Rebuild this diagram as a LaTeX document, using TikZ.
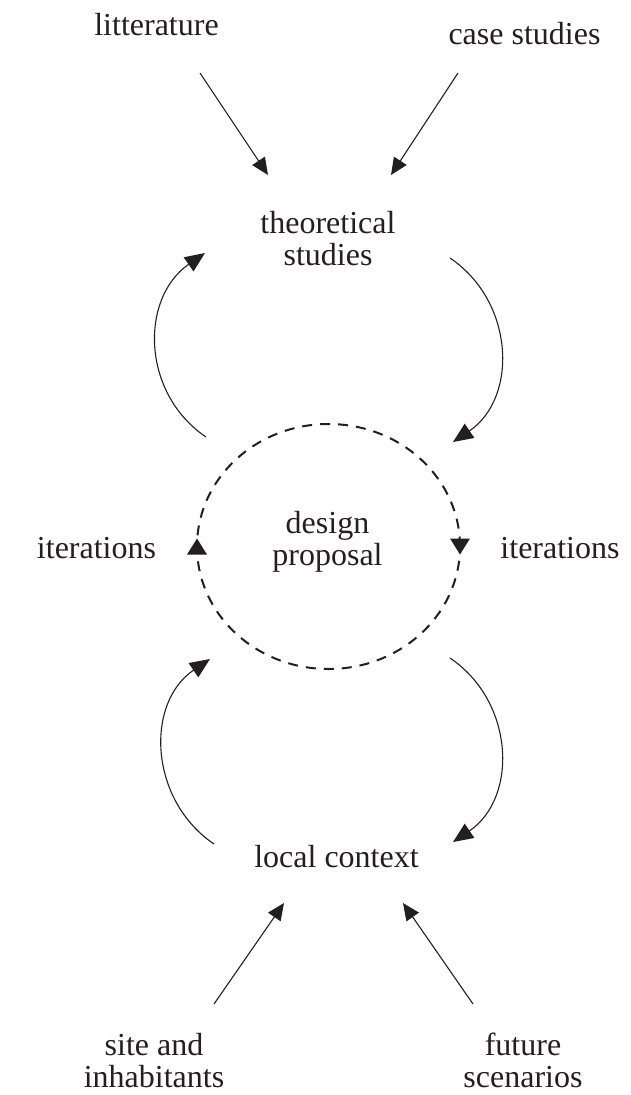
\documentclass[tikz,border=0pt]{standalone}
\usepackage{fontspec}
\setmainfont{Liberation Serif}
\usetikzlibrary{arrows.meta,shapes.geometric}
\definecolor{ink}{HTML}{231F20}
\begin{document}
\begin{tikzpicture}[x=1pt,y=-1pt,
  lbl/.style={font=\fontsize{32}{32}\selectfont, text=ink, align=center, inner sep=0pt, anchor=base},
  conn/.style={draw=ink, line width=1.1pt, -{Triangle[length=17pt,width=15pt]}},
  arc conn/.style={draw=ink, line width=1.1pt, -{Triangle[length=20pt,width=17pt]}},
  loopmark/.style={fill=ink, draw=none},
  loopring/.style={draw=ink, dash pattern=on 10pt off 8pt, line width=2pt, ellipse, minimum width=263pt, minimum height=245pt, inner sep=0pt, outer sep=0pt}
]
\useasboundingbox (0,0) rectangle (630,1095);

% text nodes (base = baseline of the last line)
\node[lbl] (lit) at (156.5,35) {litterature};
\node[lbl] (cases) at (524.5,44) {case studies};
\node[lbl] (theo) at (328,265) {theoretical\\studies};
\node[loopring] (dp) at (328.5,546.5) {};
\node[lbl] (dptext) at (327.5,565) {design\\proposal};
\node[lbl] (itl) at (96.5,558) {iterations};
\node[lbl] (itr) at (560,558) {iterations};
\node[lbl] (local) at (336.5,867) {local context};
\node[lbl] (site) at (154,1087) {site and\\inhabitants};
\node[lbl] (future) at (523,1087) {future\\scenarios};

% connector ends
\coordinate (litS) at (200,73);   \coordinate (litE) at (268,175);
\coordinate (casS) at (458,73);   \coordinate (casE) at (391,175);
\coordinate (siteS) at (214,1004); \coordinate (siteE) at (284,903);
\coordinate (futS) at (473,1004);  \coordinate (futE) at (403,903);
\coordinate (tlS) at (206,437); \coordinate (tlE) at (205,253);
\coordinate (trS) at (450,258); \coordinate (trE) at (453,442);
\coordinate (blS) at (214,844); \coordinate (blE) at (210,659);
\coordinate (brS) at (450,658); \coordinate (brE) at (453,842);

% straight inputs
\draw[conn] (litS) -- (litE);
\draw[conn] (casS) -- (casE);
\draw[conn] (siteS) -- (siteE);
\draw[conn] (futS) -- (futE);

% curved loops
\draw[arc conn] (tlS) .. controls (141,393) and (140,298) .. (tlE);
\draw[arc conn] (trS) .. controls (515,302) and (518,398) .. (trE);
\draw[arc conn] (blS) .. controls (149,800) and (145,703) .. (blE);
\draw[arc conn] (brS) .. controls (515,702) and (518,798) .. (brE);

% direction marks on the dashed ring
\path[loopmark] ([yshift=8pt]dp.west) -- ([xshift=-10pt,yshift=-8pt]dp.west) -- ([xshift=10pt,yshift=-8pt]dp.west) -- cycle;
\path[loopmark] ([yshift=-8pt]dp.east) -- ([xshift=-10pt,yshift=8pt]dp.east) -- ([xshift=10pt,yshift=8pt]dp.east) -- cycle;
\end{tikzpicture}
\end{document}
